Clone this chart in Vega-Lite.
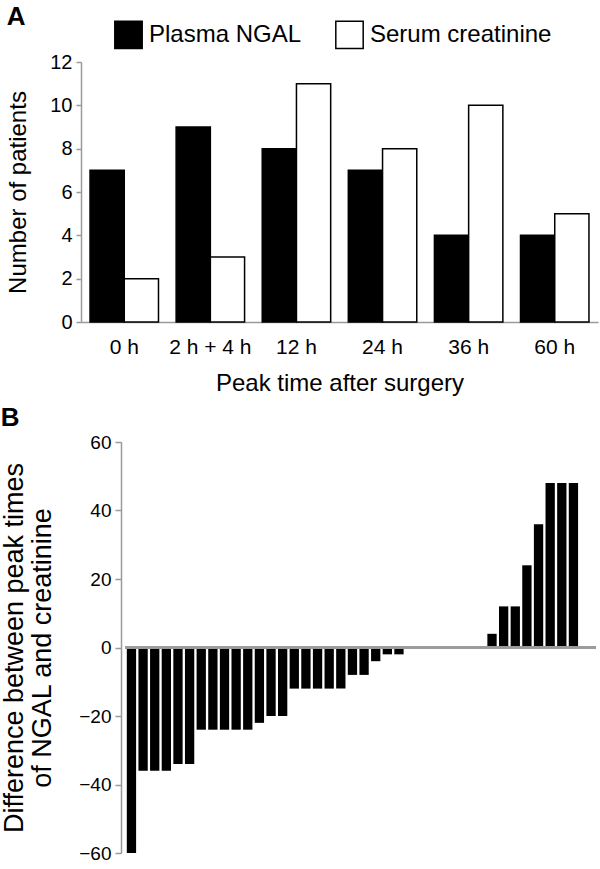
{
  "$schema": "https://vega.github.io/schema/vega-lite/v6.json",
  "padding": {"left": 0, "top": 4, "right": 0, "bottom": 0},
  "background": "white",
  "config": {
    "font": "Liberation Sans",
    "view": {"stroke": null},
    "axis": {
      "domainColor": "#9a9a9a",
      "tickColor": "#9a9a9a",
      "domainWidth": 1.5,
      "tickWidth": 1.5,
      "labelColor": "black",
      "titleColor": "black",
      "labelFont": "Liberation Sans",
      "titleFont": "Liberation Sans",
      "titleFontWeight": "normal",
      "grid": false
    },
    "title": {"font": "Liberation Sans", "color": "black"}
  },
  "datasets": {
    "peaks": [
      {"time": "0 h", "marker": "Plasma NGAL", "patients": 7},
      {"time": "0 h", "marker": "Serum creatinine", "patients": 2},
      {"time": "2 h + 4 h", "marker": "Plasma NGAL", "patients": 9},
      {"time": "2 h + 4 h", "marker": "Serum creatinine", "patients": 3},
      {"time": "12 h", "marker": "Plasma NGAL", "patients": 8},
      {"time": "12 h", "marker": "Serum creatinine", "patients": 11},
      {"time": "24 h", "marker": "Plasma NGAL", "patients": 7},
      {"time": "24 h", "marker": "Serum creatinine", "patients": 8},
      {"time": "36 h", "marker": "Plasma NGAL", "patients": 4},
      {"time": "36 h", "marker": "Serum creatinine", "patients": 10},
      {"time": "60 h", "marker": "Plasma NGAL", "patients": 4},
      {"time": "60 h", "marker": "Serum creatinine", "patients": 5}
    ],
    "diffs": [
      {"patient": 1, "diff": -60}, {"patient": 2, "diff": -36}, {"patient": 3, "diff": -36},
      {"patient": 4, "diff": -36}, {"patient": 5, "diff": -34}, {"patient": 6, "diff": -34},
      {"patient": 7, "diff": -24}, {"patient": 8, "diff": -24}, {"patient": 9, "diff": -24},
      {"patient": 10, "diff": -24}, {"patient": 11, "diff": -24}, {"patient": 12, "diff": -22},
      {"patient": 13, "diff": -20}, {"patient": 14, "diff": -20}, {"patient": 15, "diff": -12},
      {"patient": 16, "diff": -12}, {"patient": 17, "diff": -12}, {"patient": 18, "diff": -12},
      {"patient": 19, "diff": -12}, {"patient": 20, "diff": -8}, {"patient": 21, "diff": -8},
      {"patient": 22, "diff": -4}, {"patient": 23, "diff": -2}, {"patient": 24, "diff": -2},
      {"patient": 25, "diff": 0}, {"patient": 26, "diff": 0}, {"patient": 27, "diff": 0},
      {"patient": 28, "diff": 0}, {"patient": 29, "diff": 0}, {"patient": 30, "diff": 0},
      {"patient": 31, "diff": 0}, {"patient": 32, "diff": 4}, {"patient": 33, "diff": 12},
      {"patient": 34, "diff": 12}, {"patient": 35, "diff": 24}, {"patient": 36, "diff": 36},
      {"patient": 37, "diff": 48}, {"patient": 38, "diff": 48}, {"patient": 39, "diff": 48}
    ]
  },
  "spacing": 10,
  "vconcat": [
    {
      "title": {"text": "A", "anchor": "start", "frame": "bounds", "fontSize": 26, "fontWeight": "bold", "offset": 22, "dx": 0},
      "width": 517,
      "height": 260,
      "data": {"name": "peaks"},
      "mark": {"type": "bar", "stroke": "black", "strokeWidth": 1.5},
      "encoding": {
        "x": {
          "field": "time", "type": "nominal",
          "sort": ["0 h", "2 h + 4 h", "12 h", "24 h", "36 h", "60 h"],
          "scale": {"paddingInner": 0.205, "paddingOuter": 0.105},
          "axis": {"title": "Peak time after surgery", "labelAngle": 0, "ticks": false, "labelFontSize": 21, "labelPadding": 14, "titleFontSize": 24, "titlePadding": 14}
        },
        "xOffset": {
          "field": "marker", "type": "nominal",
          "sort": ["Plasma NGAL", "Serum creatinine"],
          "scale": {"paddingInner": 0, "paddingOuter": 0}
        },
        "y": {
          "field": "patients", "type": "quantitative",
          "scale": {"domain": [0, 12], "nice": false},
          "axis": {"title": "Number of patients", "values": [0, 2, 4, 6, 8, 10, 12], "tickSize": 5, "labelFontSize": 20, "labelPadding": 4, "titleFontSize": 24, "titlePadding": 19}
        },
        "fill": {
          "field": "marker", "type": "nominal",
          "scale": {"domain": ["Plasma NGAL", "Serum creatinine"], "range": ["black", "white"]},
          "legend": {
            "title": null, "orient": "none", "direction": "horizontal",
            "legendX": 33, "legendY": -42, "padding": 0,
            "symbolType": "square", "symbolSize": 750, "symbolStrokeColor": "black", "symbolStrokeWidth": 1.5,
            "labelFontSize": 24, "labelColor": "black", "labelOffset": 6, "columnPadding": 30, "labelLimit": 300
          }
        }
      }
    },
    {
      "title": {"text": "B", "anchor": "start", "frame": "bounds", "fontSize": 26, "fontWeight": "bold", "offset": 2, "dx": 0},
      "width": 520,
      "height": 411,
      "data": {"name": "diffs"},
      "layer": [
        {
          "mark": {"type": "bar", "color": "black", "width": 9.3},
          "encoding": {
            "x": {
              "field": "patient", "type": "quantitative",
              "scale": {"domain": [-2.908, 40.94], "nice": false, "zero": false},
              "axis": null
            },
            "y": {
              "field": "diff", "type": "quantitative",
              "scale": {"domain": [-60, 60], "nice": false},
              "axis": {"title": ["Difference between peak times", "of NGAL and creatinine"], "values": [-60, -40, -20, 0, 20, 40, 60], "offset": -40, "tickSize": 6, "labelFontSize": 19, "labelPadding": 4, "titleFontSize": 27, "titleLineHeight": 28, "titlePadding": 22}
            }
          }
        },
        {
          "mark": {"type": "rule", "color": "#9a9a9a", "strokeWidth": 1.5},
          "encoding": {
            "x": {"datum": 0.465, "type": "quantitative"},
            "x2": {"datum": 40.94},
            "y": {"datum": 0, "type": "quantitative"}
          }
        }
      ]
    }
  ]
}
